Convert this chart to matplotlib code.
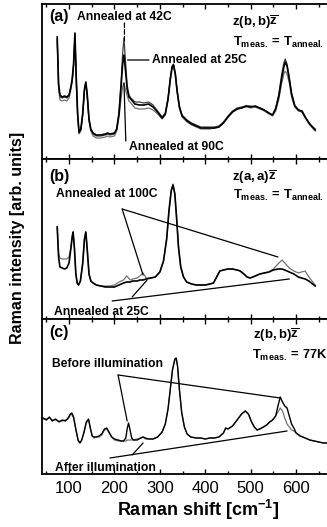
import matplotlib
matplotlib.use("Agg")
import matplotlib.pyplot as plt
from matplotlib.ticker import MultipleLocator

plt.rcParams['font.family'] = ['Liberation Sans', 'DejaVu Sans']
plt.rcParams['mathtext.fontset'] = 'custom'
plt.rcParams['mathtext.rm'] = 'Liberation Sans'
plt.rcParams['mathtext.bf'] = 'Liberation Sans:bold'
plt.rcParams['mathtext.it'] = 'Liberation Sans:italic'

# ---------------- Panel (a): z(b,b)z, T_meas = T_anneal ----------------
a_x = [74, 77, 80, 85, 90, 95, 100, 104, 107, 110, 113, 116, 119, 122, 126, 130, 134, 137, 140,
       144, 148, 153, 160, 170, 180, 185, 190, 200, 205, 210, 215, 218, 221, 224, 228, 232, 236,
       245, 255, 265, 275, 285, 295, 305, 312, 318, 323, 327, 330, 334, 338, 343, 349, 360, 370,
       380, 390, 400, 410, 420, 430, 440, 450, 460, 470, 480, 490, 500, 510, 520, 530, 540, 548,
       555, 562, 568, 573, 576, 580, 585, 590, 597, 605, 613, 620, 630, 642]
a_25C = [122, 75, 64, 62, 63, 62, 64, 72, 80, 95, 126, 80, 45, 27, 30, 45, 70, 77, 65,
         40, 30, 26, 24, 24, 25, 26, 25, 26, 30, 45, 75, 95, 104, 90, 70, 62, 60,
         55, 54, 54, 55, 52, 47, 41, 45, 60, 80, 92, 94, 85, 68, 52, 43, 38, 35,
         33, 31, 31, 31, 31, 32, 36, 42, 47, 50, 51, 53, 52, 53, 51, 49, 46, 44,
         50, 63, 80, 92, 97, 93, 80, 65, 53, 49, 48, 42, 35, 29]
a_42C = [120, 74, 62, 61, 62, 61, 63, 71, 79, 94, 124, 78, 44, 26, 29, 44, 69, 76, 64,
         39, 29, 25, 23, 23, 24, 25, 24, 25, 30, 47, 80, 105, 121, 100, 74, 64, 61,
         57, 57, 56, 57, 54, 48, 42, 46, 61, 81, 93, 95, 86, 69, 53, 44, 39, 36,
         34, 32, 32, 32, 32, 33, 37, 43, 48, 51, 52, 53, 53, 52, 51, 49, 46, 44,
         51, 65, 84, 96, 100, 95, 81, 66, 54, 49, 47, 42, 35, 30]
a_90C = [118, 72, 59, 58, 59, 58, 61, 69, 77, 92, 122, 77, 43, 25, 28, 43, 68, 75, 63,
         38, 28, 23, 21, 21, 22, 23, 22, 23, 28, 42, 62, 72, 76, 70, 63, 58, 56,
         51, 50, 50, 51, 49, 45, 40, 44, 59, 79, 91, 93, 84, 67, 51, 42, 37, 34,
         32, 30, 30, 30, 31, 32, 36, 42, 47, 50, 51, 52, 51, 52, 50, 48, 45, 43,
         48, 60, 75, 85, 88, 85, 76, 62, 52, 48, 47, 41, 34, 28]

# ---------------- Panel (b): z(a,a)z, T_meas = T_anneal ----------------
b_x = [74, 77, 80, 85, 90, 95, 100, 104, 107, 109, 112, 115, 118, 121, 125, 130, 134, 137, 140,
       144, 148, 153, 160, 170, 180, 190, 200, 210, 220, 227, 235, 240, 250, 256, 263, 270, 280,
       290, 300, 308, 315, 320, 325, 329, 333, 337, 341, 346, 352, 359, 370, 380, 390, 400, 410,
       418, 425, 432, 440, 450, 460, 470, 477, 485, 492, 499, 510, 520, 530, 540, 550, 560, 569,
       575, 585, 595, 605, 612, 620, 628, 642]
b_25C = [92, 62, 52, 51, 50, 51, 56, 70, 82, 87, 70, 45, 36, 34, 38, 55, 80, 87, 70,
         45, 38, 36, 34, 33, 32, 32, 32, 34, 36, 37, 37, 38, 38, 39, 39, 40, 41,
         42, 47, 58, 80, 108, 128, 134, 125, 100, 72, 52, 42, 37, 35, 34, 34, 34, 35,
         36, 42, 48, 49, 50, 50, 49, 48, 45, 42, 41, 43, 45, 46, 47, 49, 50, 50,
         49, 47, 45, 42, 41, 40, 38, 33]
b_100C = [92, 66, 61, 60, 60, 60, 62, 72, 83, 87, 70, 45, 36, 34, 38, 55, 80, 87, 70,
          45, 38, 36, 34, 33, 33, 33, 34, 37, 39, 43, 39, 40, 41, 43, 46, 41, 41,
          42, 47, 58, 80, 108, 129, 135, 125, 100, 72, 52, 42, 37, 35, 34, 34, 34, 35,
          36, 42, 48, 49, 50, 50, 49, 48, 45, 42, 41, 43, 45, 46, 47, 50, 55, 59,
          56, 51, 48, 46, 47, 48, 42, 34]

# ---------------- Panel (c): z(b,b)z, T_meas = 77K ----------------
c_x = [43, 50, 57, 63, 70, 78, 85, 92, 98, 103, 106, 110, 115, 120, 124, 128, 133, 138, 143,
       147, 151, 155, 160, 166, 172, 178, 183, 188, 194, 200, 208, 215, 220, 225, 228, 231, 234,
       238, 242, 250, 258, 263, 268, 275, 285, 295, 305, 312, 318, 323, 328, 333, 336, 339, 343,
       348, 354, 360, 368, 380, 390, 400, 410, 420, 430, 440, 445, 450, 460, 470, 480, 488, 495,
       502, 508, 514, 520, 528, 535, 542, 548, 555, 560, 565, 570, 575, 580, 585, 590, 595, 600,
       609, 620, 630, 640, 650, 660, 668]
c_before = [56, 54, 57, 53, 55, 52, 54, 53, 56, 60, 61, 57, 45, 34, 31, 34, 42, 52, 55,
            46, 38, 37, 37, 38, 40, 45, 46, 42, 37, 35, 34, 33, 33, 36, 45, 51, 45,
            36, 34, 34, 36, 37, 36, 35, 35, 37, 42, 50, 65, 85, 105, 115, 116, 108, 85,
            62, 47, 40, 37, 36, 36, 35, 36, 36, 37, 41, 46, 45, 48, 54, 60, 63, 60,
            52, 47, 44, 45, 47, 49, 52, 54, 58, 68, 77, 72, 68, 66, 58, 50, 46, 41,
            38, 36, 34, 33, 32, 31, 31]
c_after = [55, 55, 56, 54, 54, 53, 53, 54, 55, 59, 60, 56, 44, 33, 31, 34, 41, 51, 54,
           45, 38, 36, 37, 37, 39, 44, 45, 41, 37, 34, 33, 33, 33, 33, 34, 34, 34,
           34, 34, 35, 36, 37, 35, 35, 35, 37, 42, 50, 65, 85, 104, 114, 115, 107, 84,
           61, 47, 40, 37, 36, 36, 35, 36, 36, 37, 41, 46, 45, 48, 54, 60, 63, 60,
           52, 47, 44, 45, 47, 49, 52, 54, 58, 62, 66, 63, 56, 50, 47, 44, 43, 41,
           38, 36, 34, 33, 32, 31, 31]

xticks = [100, 200, 300, 400, 500, 600]
xtick_labels = ['100', '200', '300', '400', '500', '600']

W, H = 327, 527
fig = plt.figure(figsize=(W / 100, H / 100), dpi=100)

def px_axes(top, bottom):
    left = 42
    return fig.add_axes([left / W, 1 - bottom / H, (W - left) / W, (bottom - top) / H])

axa = px_axes(4, 159)
axb = px_axes(159, 319)
axc = px_axes(319, 474)

bold = dict(fontweight='bold')
lab_fs = 8.7

for ax, ymax in [(axa, 155), (axb, 160), (axc, 155)]:
    ax.set_xlim(40.5, 668)
    ax.set_ylim(0, ymax)
    ax.set_yticks([])
    ax.spines['right'].set_visible(False)
    for s in ['left', 'top', 'bottom']:
        ax.spines[s].set_linewidth(1.3)
    ax.xaxis.set_major_locator(MultipleLocator(100))
    ax.xaxis.set_minor_locator(MultipleLocator(50))
    ax.tick_params(axis='x', which='both', direction='in', top=True, bottom=True,
                   labelbottom=False, width=1.0)
    ax.tick_params(axis='x', which='major', length=3.5)
    ax.tick_params(axis='x', which='minor', length=2.0)

axc.set_xticks(xticks)
axc.set_xticklabels(xtick_labels)
axc.tick_params(axis='x', which='major', labelbottom=True, labelsize=12, pad=5)

# ---- panel a curves
axa.plot(a_x, a_90C, color='0.45', lw=0.9)
axa.plot(a_x, a_42C, color='0.25', lw=0.9)
axa.plot(a_x, a_25C, color='black', lw=1.2)

# ---- panel b curves
axb.plot(b_x, b_100C, color='0.45', lw=0.9)
axb.plot(b_x, b_25C, color='black', lw=1.2)

# ---- panel c curves
axc.plot(c_x, c_after, color='0.45', lw=0.9)
axc.plot(c_x, c_before, color='black', lw=1.0)

line = dict(arrowstyle='-', color='black', lw=0.9, shrinkA=0, shrinkB=0)
t_anneal = r'$\mathbf{T_{meas.}}$ = $\mathbf{T_{anneal.}}$'

# panel a text
axa.text(56, 143, '(a)', fontsize=11.5, va='center', **bold)
axa.text(118, 142, 'Annealed at 42C', fontsize=lab_fs, va='center', **bold)
axa.text(283, 99, 'Annealed at 25C', fontsize=lab_fs, va='center', **bold)
axa.text(232, 12, 'Annealed at 90C', fontsize=lab_fs, va='center', **bold)
axa.text(459, 137, r'$\mathbf{z(b,b)}\overline{\mathbf{z}}$', fontsize=9.5, va='center')
axa.text(461, 117, t_anneal, fontsize=9.3, va='center', **bold)
axa.annotate('', xy=(222, 118), xytext=(222, 136), arrowprops=dict(line, linestyle='--'))
axa.annotate('', xy=(221, 76), xytext=(225, 18), arrowprops=line)
axa.annotate('', xy=(229, 99), xytext=(276, 99), arrowprops=line)

# panel b text
axb.text(56, 142, '(b)', fontsize=11.5, va='center', **bold)
axb.text(459, 142, r'$\mathbf{z(a,a)}\overline{\mathbf{z}}$', fontsize=9.5, va='center')
axb.text(461, 124, t_anneal, fontsize=9.3, va='center', **bold)
axb.text(71, 125, 'Annealed at 100C', fontsize=lab_fs, va='center', **bold)
axb.text(67, 7, 'Annealed at 25C', fontsize=lab_fs, va='center', **bold)
axb.annotate('', xy=(560, 62), xytext=(217, 110), arrowprops=line)
axb.annotate('', xy=(263, 44), xytext=(217, 110), arrowprops=line)
axb.annotate('', xy=(585, 40), xytext=(195, 18), arrowprops=line)
axb.annotate('', xy=(272, 39), xytext=(239, 22), arrowprops=line)

# panel c text
axc.text(56, 141, '(c)', fontsize=11.5, va='center', **bold)
axc.text(505, 139, r'$\mathbf{z(b,b)}\overline{\mathbf{z}}$', fontsize=9.5, va='center')
axc.text(503, 119, r'$\mathbf{T_{meas.}}$ = 77K', fontsize=9.3, va='center', **bold)
axc.text(63, 110, 'Before illumination', fontsize=lab_fs, va='center', **bold)
axc.text(69, 6, 'After illumination', fontsize=lab_fs, va='center', **bold)
axc.annotate('', xy=(565, 76), xytext=(208, 99), arrowprops=line)
axc.annotate('', xy=(228, 53), xytext=(208, 99), arrowprops=line)
axc.annotate('', xy=(580, 43), xytext=(190, 16), arrowprops=line)
axc.annotate('', xy=(263, 31), xytext=(239, 19), arrowprops=line)

fig.text(198 / W, 1 - 510 / H, r'Raman shift [cm$^{\mathbf{-1}}$]', fontsize=13,
         ha='center', va='center', **bold)
fig.text(18 / W, 1 - 238 / H, 'Raman intensity [arb. units]', fontsize=11.5,
         rotation=90, ha='center', va='center', **bold)

fig.savefig('out.png', dpi=100)
